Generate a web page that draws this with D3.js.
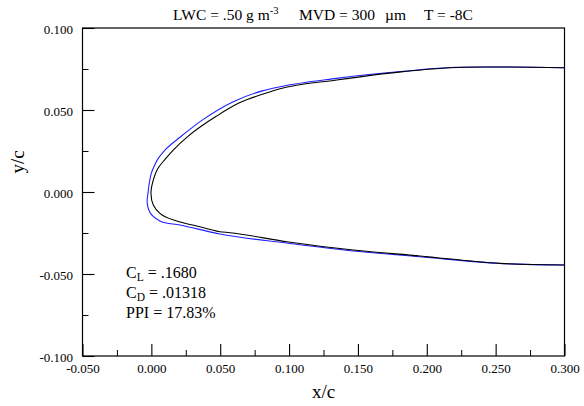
<!DOCTYPE html>
<html><head><meta charset="utf-8">
<script src="https://cdn.jsdelivr.net/npm/d3@7"></script>
<style>
body{margin:0;background:#fff;}
svg text{font-family:'Liberation Serif','Tinos','Times New Roman',Times,serif !important;}
</style></head>
<body><svg id="c" width="584" height="406"></svg>
<script>
// Ice shape / airfoil contours (x/c, y/c), trailing edge upper -> leading edge -> lower
const blackX = [0.300,0.250,0.217,0.183,0.1346,0.0934,0.0812,0.0643,0.0474,0.0268,0.0159,0.0099,0.0045,0.0014,-0.0003,0.0014,0.0062,0.0184,0.0329,0.0497,0.0570,0.0983,0.1466,0.195,0.253,0.300];
const blackY = [0.0758,0.0762,0.0758,0.0734,0.0683,0.0630,0.0598,0.0545,0.0463,0.0341,0.0256,0.0199,0.0140,0.0073,-0.0008,-0.0079,-0.0130,-0.0177,-0.0207,-0.0242,-0.0248,-0.0303,-0.0354,-0.0390,-0.0435,-0.0445];
const blueX = [0.300,0.250,0.217,0.183,0.1346,0.0934,0.0812,0.0595,0.0377,0.0208,0.0099,0.0050,0.0022,0.0000,-0.0012,-0.0023,-0.0030,0.0002,0.0062,0.0208,0.0497,0.0983,0.1466,0.195,0.253,0.300];
const blueY = [0.0758,0.0762,0.0759,0.0736,0.0693,0.0642,0.0618,0.0551,0.0443,0.0334,0.0256,0.0205,0.0160,0.0115,0.0070,0.0002,-0.0069,-0.0140,-0.0177,-0.0201,-0.0256,-0.0311,-0.0360,-0.0395,-0.0436,-0.0445];
const xTicks = [-0.050,0.000,0.050,0.100,0.150,0.200,0.250,0.300];
const yTicks = [-0.100,-0.050,0.000,0.050,0.100];
const xMinor = [-0.025,0.025,0.075,0.125,0.175,0.225,0.275];
const yMinor = [-0.075,-0.025,0.025,0.075];
const notes = [["C","L"," = .1680"],["C","D"," = .01318"],["PPI","",  " = 17.83%"]];

const svg = d3.select("#c");
const L=82.5,R=564.5,T=28,B=356;
const x = d3.scaleLinear().domain([-0.05,0.3]).range([L,R]);
const y = d3.scaleLinear().domain([-0.1,0.1]).range([B,T]);
const fmt = d => d3.format(".3f")(d).replace("\u2212","-");

// frame
svg.append("rect").attr("x",L).attr("y",T).attr("width",R-L).attr("height",B-T)
  .attr("fill","none").attr("stroke","#000").attr("stroke-width",1.2);

// x axis (ticks inward)
const xa = svg.append("g").attr("transform",`translate(0,${B})`)
  .call(d3.axisBottom(x).tickValues(xTicks).tickSizeInner(-12).tickSizeOuter(0).tickFormat(fmt));
xa.select(".domain").remove();
xa.selectAll("line").attr("stroke-width",1.1);
xa.selectAll("text").attr("font-size",13).attr("y",8);
const xm = svg.append("g").attr("transform",`translate(0,${B})`)
  .call(d3.axisBottom(x).tickValues(xMinor).tickSizeInner(-6).tickSizeOuter(0).tickFormat(""));
xm.select(".domain").remove();

// y axis
const ya = svg.append("g").attr("transform",`translate(${L},0)`)
  .call(d3.axisLeft(y).tickValues(yTicks).tickSizeInner(-12).tickSizeOuter(0).tickFormat(fmt));
ya.select(".domain").remove();
ya.selectAll("line").attr("stroke-width",1.1);
ya.selectAll("text").attr("font-size",13).attr("x",-9.5).attr("dy","0.45em");
const ym = svg.append("g").attr("transform",`translate(${L},0)`)
  .call(d3.axisLeft(y).tickValues(yMinor).tickSizeInner(-6).tickSizeOuter(0).tickFormat(""));
ym.select(".domain").remove();

// curves
const line = d3.line().x(d=>x(d[0])).y(d=>y(d[1])).curve(d3.curveCatmullRom.alpha(1));
svg.append("path").datum(blueX.map((v,i)=>[v,blueY[i]]))
  .attr("d",line).attr("fill","none").attr("stroke","#1f1fff").attr("stroke-width",1.1);
svg.append("path").datum(blackX.map((v,i)=>[v,blackY[i]]))
  .attr("d",line).attr("fill","none").attr("stroke","#000").attr("stroke-width",1.1);

// title
const t = svg.append("text").attr("y",20).attr("font-size",15.5);
t.append("tspan").attr("x",173).text("LWC = .50 g m");
t.append("tspan").attr("dy",-6).attr("font-size",10.5).text("-3");
t.append("tspan").attr("x",299).attr("dy",6).text("MVD = 300");
t.append("tspan").attr("x",385).text("\u00b5m");
t.append("tspan").attr("x",424).text("T = -8C");

// axis labels
svg.append("text").attr("x",(L+R)/2).attr("y",398).attr("text-anchor","middle").attr("font-size",19).text("x/c");
svg.append("text").attr("transform","translate(24,162) rotate(-90)").attr("text-anchor","middle").attr("font-size",19).text("y/c");

// notes
notes.forEach((n,i)=>{
  const tx = svg.append("text").attr("x",126).attr("y",278+i*20).attr("font-size",16);
  tx.append("tspan").text(n[0]);
  if(n[1]){ tx.append("tspan").attr("dy",3).attr("font-size",11.5).text(n[1]); tx.append("tspan").attr("dy",-3).text(n[2]); }
  else tx.append("tspan").text(n[2]);
});
</script></body></html>
